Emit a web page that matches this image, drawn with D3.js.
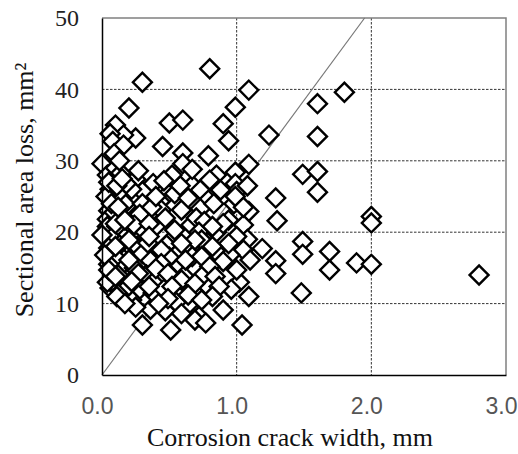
<!DOCTYPE html>
<html lang="en">
<head>
<meta charset="UTF-8">
<title>Sectional area loss vs corrosion crack width</title>
<script src="https://d3js.org/d3.v7.min.js"></script>
<style>
    html, body { margin: 0; padding: 0; background: #fff; }
    svg { display: block; }
</style>
</head>
<body>
<svg id="chart" width="518" height="454"></svg>
<script>
    // crack width (mm) and sectional area loss (mm2)
    const crackWidth = [
        0.30, 0.80, 1.09, 0.20, 0.99, 1.80, 1.60, 0.50, 0.60, 0.10, 0.90, 0.25, 0.16, 0.06, 0.08, 0.16,
        0.45, 0.60, 0.94, 1.24, 1.60, 0.00, 0.10, 0.60, 0.79, 1.09, 0.99, 1.49, 1.60, 1.60, 1.29, 0.99,
        0.74, 1.00, 0.10, 0.25, 0.38, 0.67, 0.88, 0.73, 0.49, 0.30, 0.54, 0.43, 0.79, 0.98, 0.18, 0.08,
        0.60, 0.17, 0.30, 0.44, 0.59, 0.69, 0.73, 0.83, 1.09, 0.99,
        0.04, 0.06, 0.12, 0.05, 0.13, 0.04, 0.08, 0.14, 0.06, 0.12, 0.07, 0.14, 0.09, 0.15, 0.06, 0.13,
        0.10, 0.14, 0.03, 0.09, 0.22, 0.28, 0.24, 0.32, 0.26, 0.30, 0.36, 0.24, 0.33, 0.28, 0.38, 0.22,
        0.20, 0.37, 0.40, 0.34, 0.27, 0.18, 0.40, 0.38, 0.47, 0.52, 0.48, 0.56, 0.50, 0.58, 0.64, 0.55,
        0.46, 0.62, 0.66, 0.70, 0.76, 0.72, 0.78, 0.70, 0.78, 0.64, 0.55, 0.85, 0.86, 0.58, 0.64, 0.52,
        0.46, 0.67, 0.85, 0.80, 0.47, 0.36, 0.25, 1.05, 1.08, 1.05, 1.02, 0.96, 1.08, 1.05, 0.95,
        0.05, 0.11, 0.07, 0.12, 0.04, 0.11, 0.07, 0.13, 0.05, 0.10, 0.05, 0.12, 0.08, 0.04, 0.15, 0.09, 0.13,
        2.00, 2.00, 1.30, 0.94, 0.90, 0.82, 0.10, 0.17, 0.35, 0.54, 0.00, 0.35, 0.20, 1.00, 0.74, 0.69,
        0.59, 0.94, 0.82, 0.10, 0.44, 1.19, 1.49, 1.49, 1.69, 0.02, 0.67, 0.74, 0.62, 0.20, 1.10, 1.29,
        0.90, 1.89, 2.00, 0.44, 0.80, 0.40, 0.05, 1.00, 1.69, 0.49, 0.27, 1.29, 2.80, 0.74, 0.84, 0.10,
        0.59, 0.22, 0.69, 0.87, 0.35, 0.52, 1.48, 0.64, 0.11, 0.82, 1.09, 0.49, 0.74, 0.17, 0.42, 0.90,
        0.59, 0.72, 0.69, 0.77, 0.30, 1.04, 0.51
    ];
    const areaLoss = [
        41.0, 42.9, 39.9, 37.4, 37.5, 39.6, 38.0, 35.3, 35.7, 35.0, 35.2, 33.2, 33.6, 33.8, 32.7, 32.2,
        32.0, 31.1, 32.8, 33.6, 33.4, 29.6, 30.4, 29.6, 30.7, 29.5, 28.4, 28.1, 28.5, 25.6, 24.8, 26.8,
        26.1, 25.7, 27.1, 27.4, 26.8, 26.6, 25.9, 25.9, 25.4, 25.7, 25.4, 24.3, 24.5, 24.0, 23.6, 24.5,
        23.3, 24.0, 24.0, 23.1, 23.1, 24.0, 23.3, 24.0, 22.9, 25.0,
        28.0, 26.0, 25.5, 23.0, 22.5, 21.8, 20.2, 19.8, 18.8, 17.0, 16.0, 15.2, 14.5, 12.5, 12.2, 11.8,
        29.0, 28.3, 25.0, 22.8, 26.0, 22.5, 21.0, 20.0, 18.0, 17.0, 16.0, 15.0, 14.0, 12.0, 11.5, 10.5,
        12.5, 23.5, 20.8, 18.5, 28.6, 26.8, 25.0, 13.0, 22.0, 19.0, 18.2, 17.0, 16.5, 15.3, 14.5, 13.0,
        12.0, 19.5, 21.0, 22.0, 21.5, 20.0, 17.5, 14.8, 12.5, 9.8, 10.2, 20.0, 17.0, 26.5, 24.8, 28.0,
        27.2, 28.8, 28.0, 27.3, 9.0, 9.2, 9.5, 21.0, 19.0, 17.5, 13.0, 12.0, 26.5, 23.5, 16.8,
        27.0, 26.5, 24.0, 23.5, 20.8, 20.8, 19.2, 18.2, 17.8, 16.5, 15.5, 14.0, 13.2, 13.0, 27.5, 31.0, 30.0,
        22.2, 21.3, 21.6, 21.7, 21.2, 20.8, 21.2, 21.7, 21.2, 20.3, 19.6, 19.4, 18.9, 19.4, 18.9, 18.9,
        18.4, 18.4, 18.0, 18.0, 17.5, 17.7, 18.7, 16.9, 17.3, 16.8, 16.6, 16.6, 16.1, 16.1, 16.1, 16.0,
        15.9, 15.7, 15.5, 15.6, 15.2, 14.9, 14.7, 14.7, 14.7, 14.2, 14.2, 14.2, 14.0, 13.8, 13.8, 13.8,
        13.3, 13.1, 12.8, 12.4, 12.4, 12.4, 11.5, 11.2, 11.0, 11.0, 11.0, 10.7, 10.5, 10.0, 10.0, 9.1,
        8.6, 8.2, 7.7, 7.3, 7.0, 7.0, 6.3
    ];

    // thin reference line through the origin
    const refLineX = [0, 1.95];
    const refLineY = [0, 50];

    const xTicks = [0, 1, 2, 3];
    const xTickLabels = ["0.0", "1.0", "2.0", "3.0"];
    const yTicks = [0, 10, 20, 30, 40, 50];

    const svg = d3.select("#chart");
    const margin = { top: 18, right: 12, bottom: 79, left: 102 };
    const width = 518 - margin.left - margin.right;
    const height = 454 - margin.top - margin.bottom;

    const g = svg.append("g")
        .attr("transform", `translate(${margin.left},${margin.top})`);

    const x = d3.scaleLinear().domain([0, 3]).range([0, width]);
    const y = d3.scaleLinear().domain([0, 50]).range([height, 0]);

    // dashed grid
    g.append("g")
        .selectAll("line")
        .data(yTicks.filter(d => d > 0 && d < 50))
        .join("line")
        .attr("x1", 0).attr("x2", width)
        .attr("y1", d => y(d)).attr("y2", d => y(d))
        .attr("stroke", "#333")
        .attr("stroke-width", 1)
        .attr("stroke-dasharray", "2.5,1.5");

    g.append("g")
        .selectAll("line")
        .data(xTicks.filter(d => d > 0 && d < 3))
        .join("line")
        .attr("x1", d => x(d)).attr("x2", d => x(d))
        .attr("y1", 0).attr("y2", height)
        .attr("stroke", "#333")
        .attr("stroke-width", 1)
        .attr("stroke-dasharray", "2.5,1.5");

    // frame: top and right grey
    g.append("path")
        .attr("d", `M0,0H${width}V${height}`)
        .attr("fill", "none")
        .attr("stroke", "#808080")
        .attr("stroke-width", 1.5);

    // reference line
    g.append("line")
        .attr("x1", x(refLineX[0])).attr("y1", y(refLineY[0]))
        .attr("x2", x(refLineX[1])).attr("y2", y(refLineY[1]))
        .attr("stroke", "#777")
        .attr("stroke-width", 1.2);

    // points
    const points = crackWidth.map((d, i) => ({ w: d, a: areaLoss[i] }));
    const diamond = d3.symbol().type(d3.symbolSquare).size(180);

    g.append("g")
        .selectAll("path")
        .data(points)
        .join("path")
        .attr("d", diamond)
        .attr("transform", d => `translate(${x(d.w)},${y(d.a)}) rotate(45)`)
        .attr("fill", "#fff")
        .attr("stroke", "#000")
        .attr("stroke-width", 2.4);

    // axes (no tick marks)
    const xAxis = g.append("g")
        .attr("transform", `translate(0,${height})`)
        .call(d3.axisBottom(x).tickValues(xTicks).tickSize(0).tickPadding(23)
            .tickFormat((d, i) => xTickLabels[i]));
    xAxis.select(".domain").attr("stroke", "#000").attr("stroke-width", 1.5);
    xAxis.selectAll("text")
        .attr("dx", -5)
        .attr("font-family", "'Liberation Sans', Arial, sans-serif")
        .attr("font-size", 23)
        .attr("fill", "#555");

    const yAxis = g.append("g")
        .call(d3.axisLeft(y).tickValues(yTicks).tickSize(0).tickPadding(23));
    yAxis.select(".domain").attr("stroke", "#000").attr("stroke-width", 1.5);
    yAxis.selectAll("text")
        .attr("font-family", "'Liberation Serif', 'Times New Roman', serif")
        .attr("font-size", 24)
        .attr("fill", "#222");

    // axis titles
    svg.append("text")
        .attr("x", 290)
        .attr("y", 446)
        .attr("text-anchor", "middle")
        .attr("font-family", "'Liberation Serif', 'Times New Roman', serif")
        .attr("font-size", 26)
        .attr("fill", "#111")
        .text("Corrosion crack width, mm");

    svg.append("text")
        .attr("transform", "translate(33,190) rotate(-90)")
        .attr("text-anchor", "middle")
        .attr("font-family", "'Liberation Serif', 'Times New Roman', serif")
        .attr("font-size", 26)
        .attr("fill", "#111")
        .text("Sectional area loss, mm²");
</script>
</body>
</html>
